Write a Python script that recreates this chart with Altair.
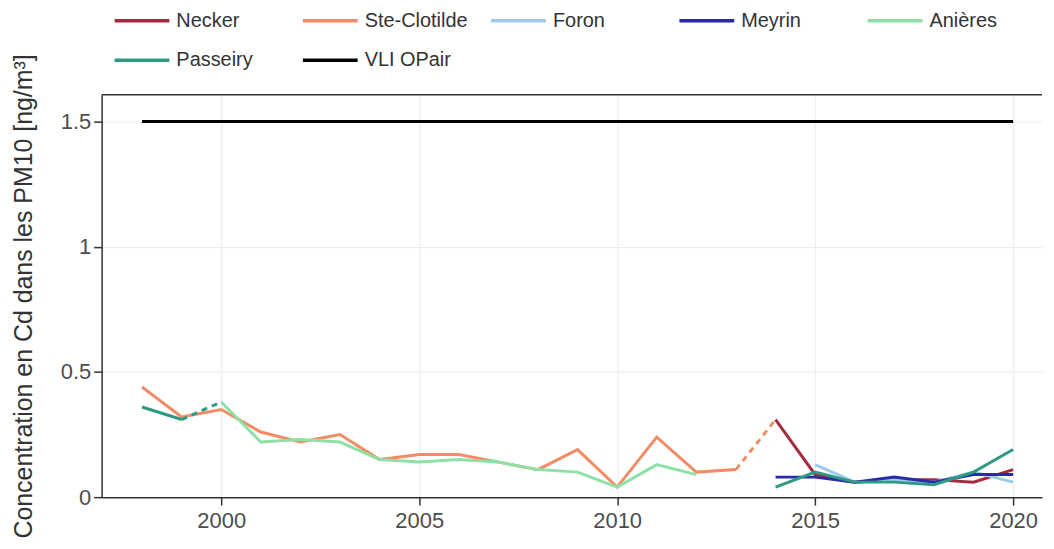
import altair as alt
import pandas as pd

# ---- data ----
series_names = ["Necker", "Ste-Clotilde", "Foron", "Meyrin", "Anières", "Passeiry", "VLI OPair"]
series_colors = ["#a52a3c", "#f28c66", "#9dcbea", "#2b2ba8", "#8de0a6", "#2e9a84", "#000000"]

necker_years = [2014, 2015, 2016, 2017, 2018, 2019, 2020]
necker_vals = [0.31, 0.09, 0.06, 0.07, 0.07, 0.06, 0.11]

ste_years = list(range(1998, 2014))
ste_vals = [0.44, 0.32, 0.35, 0.26, 0.22, 0.25, 0.15, 0.17, 0.17, 0.14, 0.11, 0.19, 0.04, 0.24, 0.10, 0.11]

foron_years = [2015, 2016, 2017, 2018, 2019, 2020]
foron_vals = [0.13, 0.06, 0.07, 0.06, 0.10, 0.06]

meyrin_years = [2014, 2015, 2016, 2017, 2018, 2019, 2020]
meyrin_vals = [0.08, 0.08, 0.06, 0.08, 0.06, 0.09, 0.09]

anieres_years = list(range(2000, 2013))
anieres_vals = [0.38, 0.22, 0.23, 0.22, 0.15, 0.14, 0.15, 0.14, 0.11, 0.10, 0.04, 0.13, 0.09]

passeiry_a_years = [1998, 1999]
passeiry_a_vals = [0.36, 0.31]
passeiry_b_years = [2014, 2015, 2016, 2017, 2018, 2019, 2020]
passeiry_b_vals = [0.04, 0.10, 0.06, 0.06, 0.05, 0.10, 0.19]

vli_years = [1998, 2020]
vli_vals = [1.5, 1.5]

# dashed connectors
passeiry_dash_years = [1999, 2000]
passeiry_dash_vals = [0.31, 0.38]
ste_dash_years = [2013, 2014]
ste_dash_vals = [0.11, 0.31]

x_ticks = [2000, 2005, 2010, 2015, 2020]
y_ticks = [0, 0.5, 1, 1.5]


def frame(name, years, vals, seg="a"):
    return pd.DataFrame({"series": name, "year": years, "value": vals, "seg": seg})


color_scale = alt.Scale(domain=series_names, range=series_colors)
x_enc = alt.X("year:Q", scale=alt.Scale(domain=[1996.98, 2020.73], nice=False, zero=False),
              axis=alt.Axis(values=x_ticks, format="d", title=None))
y_enc = alt.Y("value:Q", scale=alt.Scale(domain=[0, 1.607], nice=False),
              axis=alt.Axis(values=y_ticks, format="~g",
                            title="Concentration en Cd dans les PM10 [ng/m³]"))
legend = alt.Legend(title=None, orient="none", legendX=11, legendY=-104, columns=5,
                    direction="horizontal", symbolType="stroke", symbolSize=3025,
                    symbolStrokeWidth=3.5, labelFontSize=20, labelColor="#333333",
                    labelFont="Liberation Sans", columnPadding=16, rowPadding=-6,
                    gridAlign="all", labelOffset=5)


def solid(df):
    return alt.Chart(df).mark_line(strokeWidth=3).encode(
        x=x_enc, y=y_enc,
        color=alt.Color("series:N", scale=color_scale, legend=legend),
        detail="seg:N",
    )


def dashed(df, color):
    return alt.Chart(df).mark_line(strokeWidth=3, strokeDash=[6, 5], color=color).encode(
        x=x_enc, y=y_enc,
    )


passeiry_df = pd.concat([frame("Passeiry", passeiry_a_years, passeiry_a_vals, "a"),
                         frame("Passeiry", passeiry_b_years, passeiry_b_vals, "b")])

border = alt.Chart(pd.DataFrame({"k": [0]})).mark_rule(color="#333333", strokeWidth=1.5).encode(
    x=alt.value(0), x2=alt.value(944), y=alt.value(0)
)

layers = [
    solid(frame("Necker", necker_years, necker_vals)),
    solid(frame("Ste-Clotilde", ste_years, ste_vals)),
    dashed(frame("Ste-Clotilde", ste_dash_years, ste_dash_vals), series_colors[1]),
    solid(frame("Foron", foron_years, foron_vals)),
    solid(frame("Meyrin", meyrin_years, meyrin_vals)),
    solid(frame("Anières", anieres_years, anieres_vals)),
    solid(passeiry_df),
    dashed(frame("Passeiry", passeiry_dash_years, passeiry_dash_vals), series_colors[5]),
    solid(frame("VLI OPair", vli_years, vli_vals)),
    border,
]

chart = alt.layer(*layers).properties(
    width=944, height=404,
    autosize=alt.AutoSizeParams(type="none"),
    padding={"left": 94, "top": 86, "right": 4, "bottom": 50},
).configure_view(stroke=None).configure_axis(
    labelFont="Liberation Sans", titleFont="Liberation Sans",
    labelFontSize=22, labelColor="#4d4d4d", titleFontSize=25, titleColor="#333333",
    titleFontWeight="normal", tickColor="#333333", tickSize=8, domainColor="#333333",
    domainWidth=1.5, tickWidth=1.5, gridColor="#ebebeb", gridWidth=1, labelPadding=3,
).configure_axisY(titlePadding=24).configure_axisX(labelPadding=5)

chart.save("out.html", embed_options={"renderer": "svg", "actions": False})
